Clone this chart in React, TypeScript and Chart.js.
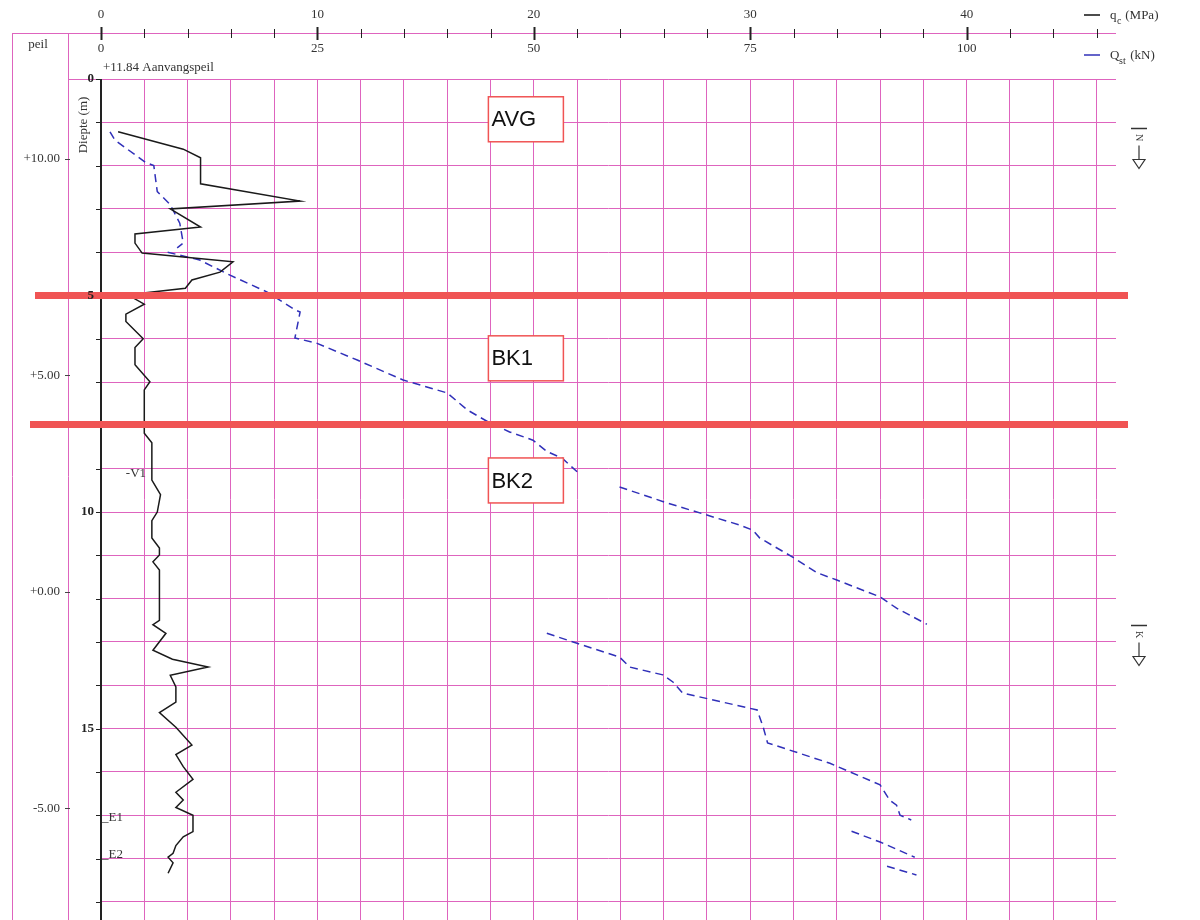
import React, { useEffect, useRef } from 'react';
import { Chart, registerables } from 'chart.js';

Chart.register(...registerables);

// ---------- data ----------
const qcDepth = [1.22, 1.62, 1.82, 2.42, 2.82, 3.0, 3.42, 3.58, 3.79, 4.02, 4.22, 4.46, 4.64, 4.83, 4.94, 5.06, 5.2, 5.43, 5.6, 6.0, 6.2, 6.6, 6.99, 7.18, 8.18, 8.4, 9.26, 9.6, 10.0, 10.2, 10.6, 10.83, 10.99, 11.15, 11.34, 12.5, 12.6, 12.8, 13.19, 13.4, 13.58, 13.77, 14.04, 14.39, 14.63, 14.97, 15.38, 15.6, 15.88, 16.17, 16.47, 16.65, 16.82, 17.0, 17.38, 17.5, 17.7, 17.88, 17.97, 18.1, 18.34];
const qcValues = [0.79, 3.8, 4.6, 4.6, 9.2, 3.2, 4.6, 1.57, 1.57, 1.9, 6.1, 5.5, 4.2, 3.9, 1.96, 1.5, 2.0, 1.15, 1.15, 1.95, 1.57, 1.57, 2.26, 2.0, 2.0, 2.35, 2.35, 2.75, 2.6, 2.35, 2.35, 2.7, 2.7, 2.4, 2.7, 2.7, 2.4, 3.0, 2.4, 3.3, 4.95, 3.2, 3.46, 3.46, 2.7, 3.46, 4.2, 3.46, 3.8, 4.25, 3.46, 3.8, 3.46, 4.25, 4.25, 3.8, 3.46, 3.33, 3.1, 3.33, 3.1];

// null entries break the dashed Qst curve into its separate pieces
const qstDepth = [1.22, 1.41, 1.92, 2.0, 2.6, 2.9, 3.02, 3.33, 3.79, 3.9, null,
  4.0, 4.18, 4.53, 4.92, 5.33, 5.38, 5.98, 6.1, 6.49, 6.95, 7.25, 7.64, 7.94, 8.15, 8.34, 8.6, 8.76, 9.07, null,
  9.42, 9.79, 10.07, 10.3, 10.42, 10.6, 11.04, 11.4, 11.57, 11.96, 12.22, 12.59, null,
  12.8, 13.03, 13.35, 13.58, 13.76, 13.93, 14.18, 14.57, 14.97, 15.33, 15.8, 16.3, 16.65, 16.77, 17.0, 17.11, null,
  17.37, 17.62, 17.97, null,
  18.18, 18.38];
const qstValues = [1.04, 1.6, 5.1, 6.1, 6.5, 8.0, 8.3, 9.1, 9.5, 8.8, null,
  7.7, 11.4, 14.9, 19.2, 22.4, 23.0, 22.4, 24.9, 29.6, 34.9, 40.0, 42.3, 44.9, 47.2, 49.9, 51.5, 53.3, 55.0, null,
  59.9, 65.4, 70.0, 73.8, 75.3, 76.1, 79.9, 82.7, 85.0, 90.0, 91.9, 95.4, null,
  51.5, 55.0, 59.9, 61.1, 64.9, 66.1, 67.2, 75.8, 76.5, 77.0, 84.2, 90.0, 91.1, 91.9, 92.3, 93.6, null,
  86.7, 90.0, 94.0, null,
  90.8, 94.2];

const qcGridTicks = [0, 2, 4, 6, 8, 10, 12, 14, 16, 18, 20, 22, 24, 26, 28, 30, 32, 34, 36, 38, 40, 42, 44, 46];
const depthGridTicks = [0, 1, 2, 3, 4, 5, 6, 7, 8, 9, 10, 11, 12, 13, 14, 15, 16, 17, 18, 19];
const qcLabelTicks = [0, 10, 20, 30, 40];
const qstLabelTicks = [0, 25, 50, 75, 100];
const depthLabelTicks = [0, 5, 10, 15];
const startLevel = 11.84;
const elevationTicks = [10, 5, 0, -5];
const elevationLabels = ['+10.00', '+5.00', '+0.00', '-5.00'];
const layerBoundaries = [5.0, 7.98];
const layerNames = ['AVG', 'BK1', 'BK2'];
const layerLabelDepths = [0.93, 6.45, 9.27];
const layerLabelQc = 17.9;
const markerNames = ['-V1', '_E1', '_E2'];
const markerDepths = [9.1, 17.05, 17.9];
const markerQc = [1.1, 0.0, 0.0];
const arrowNames = ['N', 'K'];
const arrowDepths = [1.13, 12.6];

// ---------- styles ----------
const PINK = 'rgb(222, 100, 190)';
const RED = 'rgb(240, 84, 84)';
const BLUE = 'rgb(48, 48, 185)';
const SERIF = '"Liberation Serif", "DejaVu Serif", serif';
const SANS = '"Liberation Sans", Arial, sans-serif';

function seg(ctx: CanvasRenderingContext2D, x1: number, y1: number, x2: number, y2: number) {
  ctx.beginPath();
  ctx.moveTo(x1, y1);
  ctx.lineTo(x2, y2);
  ctx.stroke();
}

const decorPlugin = {
  id: 'decor',
  beforeDatasetsDraw(chart: any) {
    const { ctx, chartArea: a, scales } = chart;
    const xs = scales.x;
    const ys = scales.y;
    ctx.save();
    // frame lines in header / left strip
    ctx.strokeStyle = PINK;
    ctx.lineWidth = 1;
    seg(ctx, 12, 33.5, a.right, 33.5);
    seg(ctx, 12.5, 33, 12.5, 920);
    seg(ctx, 68.5, 33, 68.5, 920);
    seg(ctx, 68, Math.round(ys.getPixelForValue(0)) + 0.5, a.left, Math.round(ys.getPixelForValue(0)) + 0.5);
    // black depth axis
    ctx.strokeStyle = '#222';
    ctx.lineWidth = 2;
    seg(ctx, a.left, a.top, a.left, a.bottom);
    ctx.lineWidth = 1;
    depthGridTicks.forEach((d) => {
      const y = Math.round(ys.getPixelForValue(d)) + 0.5;
      seg(ctx, a.left - 5, y, a.left, y);
    });
    // ticks on the top scale line
    qcGridTicks.forEach((v) => {
      const x = Math.round(xs.getPixelForValue(v)) + 0.5;
      const major = v % 10 === 0;
      ctx.lineWidth = major ? 2 : 1;
      seg(ctx, x, major ? 27 : 29, x, major ? 40 : 38);
    });
    ctx.restore();
  },
  afterDatasetsDraw(chart: any) {
    const { ctx, scales } = chart;
    const xs = scales.x;
    const ys = scales.y;
    ctx.save();
    // layer boundaries
    ctx.strokeStyle = RED;
    ctx.lineWidth = 7;
    layerBoundaries.forEach((d, i) => {
      const y = ys.getPixelForValue(d);
      seg(ctx, i === 0 ? 35 : 30, y, 1128, y);
    });
    // layer name boxes
    layerNames.forEach((name, i) => {
      const x = xs.getPixelForValue(layerLabelQc);
      const yc = ys.getPixelForValue(layerLabelDepths[i]);
      const w = 75;
      const h = 45;
      ctx.fillStyle = '#fff';
      ctx.fillRect(x, yc - h / 2, w, h);
      ctx.strokeStyle = RED;
      ctx.lineWidth = 1.5;
      ctx.strokeRect(x, yc - h / 2, w, h);
      ctx.fillStyle = '#111';
      ctx.font = '22px ' + SANS;
      ctx.textAlign = 'left';
      ctx.textBaseline = 'middle';
      ctx.fillText(name, x + 3, yc + 1);
    });
    ctx.restore();
  },
  afterDraw(chart: any) {
    const { ctx, chartArea: a, scales } = chart;
    const xs = scales.x;
    const x2 = scales.x2;
    const ys = scales.y;
    ctx.save();
    ctx.fillStyle = '#333';
    ctx.textBaseline = 'middle';
    ctx.textAlign = 'center';
    ctx.font = '13px ' + SERIF;
    qcLabelTicks.forEach((v) => ctx.fillText(String(v), xs.getPixelForValue(v), 15));
    qstLabelTicks.forEach((v) => ctx.fillText(String(v), x2.getPixelForValue(v), 49));
    ctx.fillText('peil', 38, 45);

    // legend
    ctx.strokeStyle = '#111';
    ctx.lineWidth = 1.5;
    seg(ctx, 1084, 15, 1100, 15);
    ctx.strokeStyle = BLUE;
    seg(ctx, 1084, 55, 1100, 55);
    ctx.textAlign = 'left';
    ctx.font = '13px ' + SERIF;
    ctx.fillText('q', 1110, 16);
    ctx.font = '10px ' + SERIF;
    ctx.fillText('c', 1117, 21);
    ctx.font = '13px ' + SERIF;
    ctx.fillText(' (MPa)', 1122, 16);
    ctx.fillText('Q', 1110, 56);
    ctx.font = '10px ' + SERIF;
    ctx.fillText('st', 1119, 61);
    ctx.font = '13px ' + SERIF;
    ctx.fillText(' (kN)', 1127, 56);

    // start level note
    ctx.fillText('+11.84 Aanvangspeil', a.left + 2, 68);

    // elevation labels
    ctx.textAlign = 'right';
    elevationTicks.forEach((e, i) => {
      const y = ys.getPixelForValue(startLevel - e);
      ctx.fillText(elevationLabels[i], 60, y);
      ctx.strokeStyle = '#444';
      ctx.lineWidth = 1;
      seg(ctx, 65, Math.round(y) + 0.5, 70, Math.round(y) + 0.5);
    });

    // depth labels
    ctx.font = 'bold 13px ' + SERIF;
    ctx.fillStyle = '#222';
    depthLabelTicks.forEach((d) => {
      const y = ys.getPixelForValue(d);
      ctx.fillText(String(d), a.left - 7, y);
    });

    // axis title
    ctx.save();
    ctx.translate(84, 125);
    ctx.rotate(-Math.PI / 2);
    ctx.textAlign = 'center';
    ctx.font = '13px ' + SERIF;
    ctx.fillStyle = '#333';
    ctx.fillText('Diepte (m)', 0, 0);
    ctx.restore();

    // markers along the profile
    ctx.textAlign = 'left';
    ctx.font = '13px ' + SERIF;
    ctx.fillStyle = '#333';
    markerNames.forEach((m, i) => {
      ctx.fillText(m, xs.getPixelForValue(markerQc[i]) + 1, ys.getPixelForValue(markerDepths[i]));
    });

    // water level arrows on the right
    arrowNames.forEach((n, i) => {
      const cx = 1139;
      const y = Math.round(ys.getPixelForValue(arrowDepths[i])) + 0.5;
      ctx.strokeStyle = '#333';
      ctx.lineWidth = 1.5;
      seg(ctx, cx - 8, y, cx + 8, y);
      ctx.save();
      ctx.translate(cx, y + 9);
      ctx.rotate(Math.PI / 2);
      ctx.font = '10px ' + SERIF;
      ctx.textAlign = 'center';
      ctx.textBaseline = 'middle';
      ctx.fillStyle = '#333';
      ctx.fillText(n, 0, 0);
      ctx.restore();
      ctx.lineWidth = 1.2;
      seg(ctx, cx, y + 17, cx, y + 31);
      ctx.beginPath();
      ctx.moveTo(cx - 6, y + 31);
      ctx.lineTo(cx + 6, y + 31);
      ctx.lineTo(cx, y + 40);
      ctx.closePath();
      ctx.stroke();
    });
    ctx.restore();
  },
};

export default function App() {
  const canvasRef = useRef<HTMLCanvasElement | null>(null);

  useEffect(() => {
    const canvas = canvasRef.current;
    if (!canvas) return;
    const qcPoints = qcDepth.map((d, i) => ({ x: qcValues[i], y: d }));
    const qstPoints = qstDepth.map((d, i) => ({ x: qstValues[i], y: d }));
    const chart = new Chart(canvas, {
      type: 'scatter',
      data: {
        datasets: [
          {
            label: 'qc (MPa)',
            data: qcPoints,
            xAxisID: 'x',
            yAxisID: 'y',
            showLine: true,
            borderColor: '#1a1a1a',
            borderWidth: 1.5,
            pointRadius: 0,
            spanGaps: false,
          },
          {
            label: 'Qst (kN)',
            data: qstPoints as any,
            xAxisID: 'x2',
            yAxisID: 'y',
            showLine: true,
            borderColor: BLUE,
            borderWidth: 1.5,
            borderDash: [8, 5],
            pointRadius: 0,
            spanGaps: false,
          },
        ],
      },
      options: {
        responsive: false,
        animation: false,
        devicePixelRatio: 1,
        layout: { padding: { left: 101, top: 79, right: 84, bottom: 0 } },
        plugins: { legend: { display: false }, tooltip: { enabled: false } },
        scales: {
          x: {
            type: 'linear',
            position: 'bottom',
            min: 0,
            max: 46.9,
            afterBuildTicks: (axis: any) => {
              axis.ticks = qcGridTicks.map((v) => ({ value: v }));
            },
            ticks: { display: false },
            grid: { color: PINK, lineWidth: 1, drawTicks: false },
            border: { display: false },
          },
          x2: {
            type: 'linear',
            display: false,
            min: 0,
            max: 46.9 * 2.5,
          },
          y: {
            type: 'linear',
            position: 'left',
            reverse: true,
            min: 0,
            max: 19.42,
            afterBuildTicks: (axis: any) => {
              axis.ticks = depthGridTicks.map((v) => ({ value: v }));
            },
            ticks: { display: false },
            grid: { color: PINK, lineWidth: 1, drawTicks: false },
            border: { display: false },
          },
        },
      },
      plugins: [decorPlugin],
    });
    return () => chart.destroy();
  }, []);

  return (
    <div style={{ position: 'absolute', left: 0, top: 0, width: 1200, height: 920, background: '#fff' }}>
      <canvas ref={canvasRef} width={1200} height={920} style={{ width: 1200, height: 920, display: 'block' }} />
    </div>
  );
}
